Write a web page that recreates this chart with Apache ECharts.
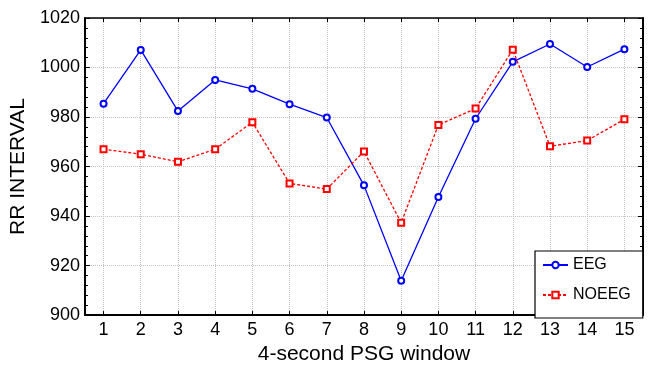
<!DOCTYPE html>
<html>
<head>
<meta charset="utf-8">
<script src="https://cdn.jsdelivr.net/npm/echarts@6/dist/echarts.min.js"></script>
<style>
    html, body { margin: 0; padding: 0; background: #fff; }
    #chart { width: 648px; height: 370px; }
</style>
</head>
<body>
<div id="chart"></div>
<script>
// 4-second PSG windows
const windows = [1, 2, 3, 4, 5, 6, 7, 8, 9, 10, 11, 12, 13, 14, 15]
const eegValues = [985.4, 1007.1, 982.4, 995, 991.4, 985.2, 979.8, 952.4, 913.9, 947.7, 979.3, 1002.3, 1009.5, 1000.2, 1007.4]
const noeegValues = [967, 965, 961.9, 967, 977.9, 953.2, 950.9, 966.1, 937.3, 976.8, 983.4, 1007.2, 968.2, 970.5, 979.1]

const font = 'Liberation Sans, Arial, sans-serif'
const gridLine = { show: true, lineStyle: { color: '#c2c2c2', type: 'dotted', width: 1 } }

function pairs(vals) {
    return windows.map(function(w, i) {
        return [w, vals[i]]
    })
}

let option = {
    animation: false,
    textStyle: { fontFamily: font },
    grid: { left: 83, right: 5, top: 18, bottom: 45 },
    legend: {
        orient: 'vertical',
        left: 535,
        top: 251,
        padding: [6, 12, 15, 7],
        itemGap: 14,
        itemWidth: 25,
        itemHeight: 8,
        itemTextGap: 3,
        borderColor: '#000',
        borderWidth: 1.2,
        backgroundColor: '#fff',
        textStyle: { fontSize: 16, color: '#000', fontFamily: font },
        data: ['EEG', 'NOEEG']
    },
    xAxis: [
        {
            type: 'value',
            min: 0.5,
            max: 15.5,
            minInterval: 1,
            maxInterval: 1,
            splitNumber: 15,
            name: '4-second PSG window',
            nameLocation: 'middle',
            nameGap: 24,
            nameTextStyle: { fontSize: 21, color: '#000', fontFamily: font },
            axisLine: { lineStyle: { color: '#000', width: 2 } },
            axisTick: { inside: true, length: 4, lineStyle: { color: '#000' } },
            axisLabel: {
                fontSize: 18,
                color: '#000',
                margin: 6,
                formatter: function(v) {
                    return Number.isInteger(v) ? String(v) : ''
                }
            },
            splitLine: gridLine
        },
        {
            type: 'value',
            position: 'top',
            min: 0.5,
            max: 15.5,
            minInterval: 1,
            maxInterval: 1,
            splitNumber: 15,
            axisLine: { show: true, lineStyle: { color: '#000', width: 1.5 } },
            axisTick: { inside: true, length: 4, lineStyle: { color: '#000' } },
            axisLabel: { show: false },
            splitLine: { show: false }
        }
    ],
    yAxis: [
        {
            type: 'value',
            min: 900,
            max: 1020,
            interval: 20,
            name: 'RR INTERVAL',
            nameLocation: 'middle',
            nameGap: 46,
            nameTextStyle: { fontSize: 21, color: '#000', fontFamily: font },
            axisLine: { show: true, lineStyle: { color: '#000', width: 2 } },
            axisTick: { inside: true, length: 5, lineStyle: { color: '#000' } },
            minorTick: { show: true, splitNumber: 5, length: 3, lineStyle: { color: '#000' } },
            axisLabel: {
                fontSize: 18,
                color: '#000',
                margin: 5,
                formatter: function(v) {
                    return String(v)
                }
            },
            splitLine: gridLine
        },
        {
            type: 'value',
            position: 'right',
            min: 900,
            max: 1020,
            interval: 20,
            axisLine: { show: true, lineStyle: { color: '#000', width: 2 } },
            axisTick: { show: true, inside: true, length: 5, lineStyle: { color: '#000' } },
            minorTick: { show: true, splitNumber: 5, length: 3, lineStyle: { color: '#000' } },
            axisLabel: { show: false },
            splitLine: { show: false }
        }
    ],
    series: [
        {
            name: 'EEG',
            type: 'line',
            data: pairs(eegValues),
            symbol: 'emptyCircle',
            symbolSize: 6,
            lineStyle: { color: '#0000ff', width: 1.3 },
            itemStyle: { color: '#0000ff', borderWidth: 1.1 }
        },
        {
            name: 'NOEEG',
            type: 'line',
            data: pairs(noeegValues),
            symbol: 'emptyRect',
            symbolSize: 6,
            lineStyle: { color: '#ff0000', width: 1.3, type: [3, 2] },
            itemStyle: { color: '#ff0000', borderWidth: 1.4, borderType: 'solid' }
        }
    ]
}

var myChart = echarts.init(document.getElementById('chart'))
myChart.setOption(option)
</script>
</body>
</html>
